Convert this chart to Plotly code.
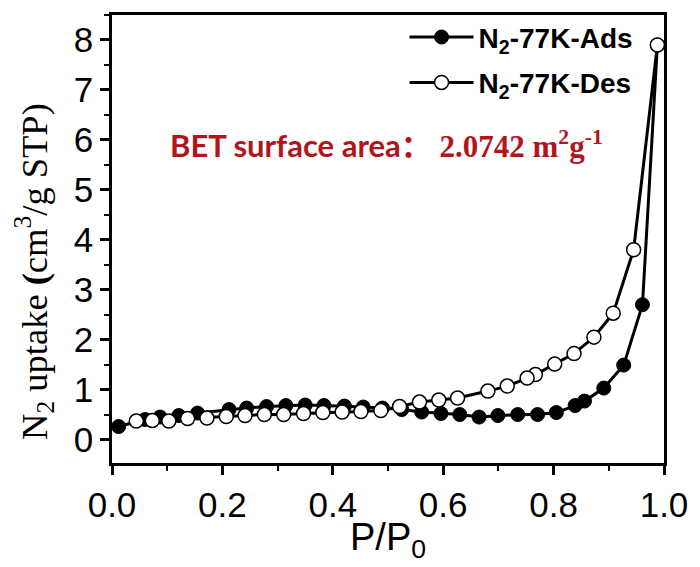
import plotly.graph_objects as go

# Adsorption branch (filled)
ads_x = [0.012, 0.060, 0.087, 0.121, 0.155, 0.212, 0.244, 0.280, 0.315, 0.350,
         0.384, 0.421, 0.455, 0.490, 0.525, 0.561, 0.596, 0.630, 0.665, 0.699,
         0.735, 0.771, 0.805, 0.839, 0.856, 0.891, 0.927, 0.961, 0.988]
ads_y = [0.26, 0.40, 0.45, 0.48, 0.53, 0.60, 0.63, 0.66, 0.68, 0.69,
         0.68, 0.67, 0.65, 0.63, 0.60, 0.55, 0.52, 0.50, 0.45, 0.48,
         0.50, 0.50, 0.54, 0.68, 0.77, 1.03, 1.49, 2.70, 7.90]

# Desorption branch (open)
des_x = [0.988, 0.945, 0.908, 0.873, 0.837, 0.802, 0.767, 0.752, 0.716, 0.681,
         0.626, 0.592, 0.557, 0.521, 0.487, 0.451, 0.417, 0.382, 0.347, 0.311,
         0.276, 0.241, 0.207, 0.172, 0.137, 0.103, 0.073, 0.044]
des_y = [7.90, 3.80, 2.53, 2.05, 1.72, 1.51, 1.30, 1.23, 1.07, 0.97,
         0.83, 0.79, 0.75, 0.66, 0.58, 0.56, 0.55, 0.54, 0.52, 0.50,
         0.50, 0.48, 0.46, 0.43, 0.42, 0.37, 0.38, 0.37]

x_ticks = [0.0, 0.2, 0.4, 0.6, 0.8, 1.0]
x_tick_text = ["0.0", "0.2", "0.4", "0.6", "0.8", "1.0"]
y_ticks = [0, 1, 2, 3, 4, 5, 6, 7, 8]
y_tick_text = [str(v) for v in y_ticks]

fig = go.Figure()
fig.add_trace(go.Scatter(
    x=ads_x, y=ads_y, mode="lines+markers", name="N<sub>2</sub>-77K-Ads",
    legendgroup="a",
    line=dict(color="black", width=3),
    marker=dict(symbol="circle", size=14, color="black",
                line=dict(color="black", width=1)),
))
fig.add_trace(go.Scatter(
    x=des_x, y=des_y, mode="lines+markers", name="N<sub>2</sub>-77K-Des",
    legendgroup="b",
    line=dict(color="black", width=3),
    marker=dict(symbol="circle", size=14, color="white",
                line=dict(color="black", width=1.5)),
))

axis_common = dict(
    showline=True, linecolor="black", linewidth=2.5, mirror=True,
    ticks="outside", ticklen=9, tickwidth=2.5, tickcolor="black",
    showgrid=False, zeroline=False,
    tickfont=dict(family="Liberation Sans, Arial", size=35, color="black"),
)

fig.update_xaxes(range=[0, 1.0], tickvals=x_ticks, ticktext=x_tick_text,
                 minor=dict(ticks="outside", ticklen=5, tickwidth=2,
                            tickcolor="black", dtick=0.1, tick0=0),
                 **axis_common)
fig.update_yaxes(range=[-0.47, 8.5], tickvals=y_ticks, ticktext=y_tick_text,
                 minor=dict(ticks="outside", ticklen=5, tickwidth=2,
                            tickcolor="black", dtick=0.5, tick0=0),
                 **axis_common)

fig.add_annotation(
    xref="paper", yref="paper", x=0.497, y=0.71, showarrow=False,
    xanchor="center", yanchor="middle",
    text=('<span style="font-family:Lato, \'Noto Sans CJK SC\'; font-weight:bold">BET surface area：</span>'
          '<span style="font-family:\'Liberation Serif\', \'Times New Roman\'; font-weight:bold"> 2.0742 m<sup>2</sup>g<sup>-1</sup></span>'),
    font=dict(size=31, color="#B3141C"),
)

fig.add_annotation(
    xref="paper", yref="paper", x=-0.14, y=0.428, showarrow=False,
    textangle=-90, xanchor="center", yanchor="middle",
    text="N<sub>2</sub> uptake <b>(</b>cm<sup>3</sup>/g STP)",
    font=dict(family="Liberation Serif, Times New Roman", size=36.5, color="black"),
)

fig.add_annotation(
    xref="paper", yref="paper", x=0.5, y=-0.171, showarrow=False,
    xanchor="center", yanchor="middle",
    text="P/P<sub>0</sub>",
    font=dict(family="Liberation Sans, Arial", size=38, color="black"),
)

fig.update_layout(
    width=700, height=567,
    margin=dict(l=112, r=29, t=14, b=104),
    paper_bgcolor="white", plot_bgcolor="white",
    showlegend=True,
    legend=dict(x=0.53, y=1.006, xanchor="left", yanchor="top",
                bgcolor="rgba(0,0,0,0)", itemwidth=64,
                traceorder="grouped", tracegroupgap=6,
                font=dict(family="Liberation Sans, Arial", size=28, color="black",
                          weight="bold")),
)

fig.write_html("out.html")
